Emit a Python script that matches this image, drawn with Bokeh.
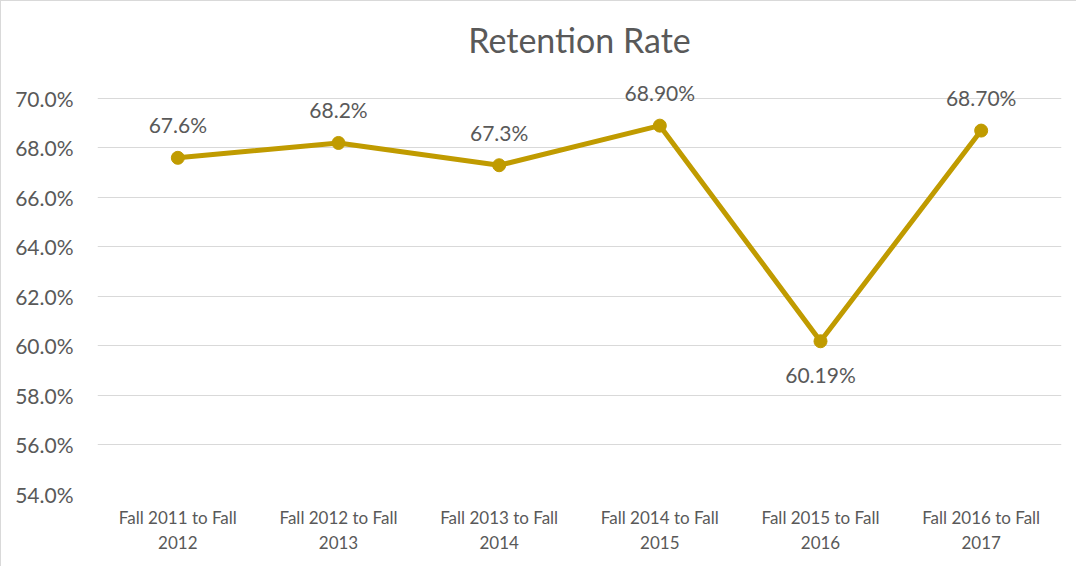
from bokeh.plotting import figure
from bokeh.models import ColumnDataSource, Range1d, LabelSet
from bokeh.core.properties import value
from bokeh.embed import file_html
from bokeh.resources import INLINE

categories = ["Fall 2011 to Fall\n2012", "Fall 2012 to Fall\n2013", "Fall 2013 to Fall\n2014",
              "Fall 2014 to Fall\n2015", "Fall 2015 to Fall\n2016", "Fall 2016 to Fall\n2017"]
retention = [67.6, 68.2, 67.3, 68.9, 60.19, 68.7]
point_labels = ["67.6%", "68.2%", "67.3%", "68.90%", "60.19%", "68.70%"]
label_side = [1, 1, 1, 1, -1, 1]
y_ticks = [54, 56, 58, 60, 62, 64, 66, 68, 70]

FONT = "Lato"
GOLD = "#C09B00"
TXT = "#595959"

src = ColumnDataSource(dict(
    x=categories, y=retention, lab=point_labels,
    yoff=[33 * s for s in label_side],
))

# frame extends a little above 70% so labels above points are not clipped
p = figure(x_range=categories, y_range=Range1d(54, 71.41), width=1076, height=566,
           output_backend="svg", toolbar_location=None, title="Retention Rate",
           min_border_left=96, min_border_right=16, min_border_top=62, min_border_bottom=73)
p.styles = {"border-top": "1px solid #d9d9d9", "border-left": "1px solid #d9d9d9"}

p.title.align = "center"
p.title.text_font = FONT
p.title.text_font_size = "34px"
p.title.text_font_style = "normal"
p.title.text_color = TXT
p.title.standoff = 7

p.outline_line_color = None
p.background_fill_color = "white"
p.border_fill_color = "white"

p.xgrid.grid_line_color = None
p.ygrid.grid_line_color = "#d9d9d9"
p.ygrid.grid_line_width = 1

p.yaxis.ticker = y_ticks
p.yaxis.major_label_overrides = {v: f"{v:.1f}%" for v in y_ticks}
p.yaxis.axis_line_color = None
p.yaxis.major_tick_line_color = None
p.yaxis.minor_tick_line_color = None
p.yaxis.major_label_text_font = FONT
p.yaxis.major_label_text_font_size = "21px"
p.yaxis.major_label_text_color = TXT
p.yaxis.major_label_standoff = 18

p.xaxis.axis_line_color = None
p.xaxis.major_tick_line_color = None
p.xaxis.minor_tick_line_color = None
p.xaxis.major_label_text_font = FONT
p.xaxis.major_label_text_font_size = "17px"
p.xaxis.major_label_text_color = TXT
p.xaxis.major_label_standoff = 6

p.line("x", "y", source=src, line_color=GOLD, line_width=5)
p.scatter("x", "y", source=src, size=13, fill_color=GOLD, line_color=GOLD)
labels = LabelSet(x="x", y="y", text="lab", source=src, y_offset="yoff",
                  text_font=value(FONT), text_font_size=value("21px"), text_color=TXT,
                  text_align="center", text_baseline="middle")
p.add_layout(labels)

open("out.html", "w").write(file_html(p, INLINE))
